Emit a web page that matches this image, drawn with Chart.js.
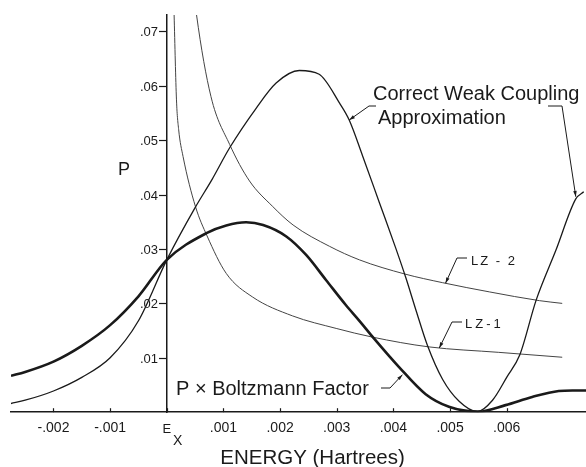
<!DOCTYPE html>
<html>
<head>
<meta charset="utf-8">
<script src="https://cdn.jsdelivr.net/npm/chart.js@4.4.1/dist/chart.umd.min.js"></script>
<style>
  html, body { margin: 0; padding: 0; background: #fff; }
  #wrap { width: 586px; height: 467px; }
</style>
</head>
<body>
<div id="wrap"><canvas id="energyChart" width="586" height="467"></canvas></div>
<script>
var cwcEnergy = [-0.00275, -0.0025, -0.002, -0.0015, -0.001, -0.0005, 0, 0.0005, 0.0008, 0.00111, 0.00158, 0.00193, 0.00234, 0.00269, 0.00305, 0.00322, 0.00346, 0.00375, 0.00404, 0.00422, 0.0044, 0.0046, 0.00487, 0.00516, 0.00548, 0.00575, 0.006, 0.00623, 0.00652, 0.00687, 0.00722, 0.00736];
var cwcP = [0.0016, 0.0022, 0.0039, 0.0064, 0.0100, 0.0168, 0.028, 0.0376, 0.0428, 0.0486, 0.0559, 0.0605, 0.0628, 0.0621, 0.0568, 0.0537, 0.0470, 0.0386, 0.0302, 0.0247, 0.0187, 0.0123, 0.0060, 0.0020, 0.0001, 0.0022, 0.0064, 0.0105, 0.0206, 0.0298, 0.0392, 0.0405];

var boltzEnergy = [-0.00275, -0.0025, -0.002, -0.0015, -0.001, -0.0005, 0, 0.0007, 0.00105, 0.0014, 0.0017, 0.00211, 0.00246, 0.00281, 0.00316, 0.0034, 0.00363, 0.0041, 0.00457, 0.00498, 0.0055, 0.00598, 0.00645, 0.00692, 0.00716, 0.0074];
var boltzP = [0.0067, 0.0074, 0.0093, 0.0122, 0.0160, 0.0213, 0.028, 0.0329, 0.0343, 0.0349, 0.0344, 0.0323, 0.0289, 0.0243, 0.0197, 0.0168, 0.0139, 0.0083, 0.0033, 0.0010, 0.0001, 0.0013, 0.0028, 0.0039, 0.0040, 0.0040];

var lz1Energy = [0.0001, 0.000129, 0.000171, 0.00021, 0.000287, 0.000506, 0.000711, 0.00105, 0.00151, 0.00222, 0.00299, 0.00363, 0.00463, 0.00586, 0.00698];
var lz1P = [0.085, 0.0731, 0.0574, 0.0519, 0.047, 0.0378, 0.0324, 0.0255, 0.0212, 0.0177, 0.0154, 0.0138, 0.0120, 0.0110, 0.0101];

var lz2Energy = [0.00045, 0.000524, 0.00078, 0.00111, 0.00146, 0.00187, 0.00223, 0.00287, 0.0034, 0.0042, 0.00487, 0.0057, 0.00658, 0.00698];
var lz2P = [0.080, 0.0731, 0.058, 0.0492, 0.0425, 0.0378, 0.0344, 0.0305, 0.0280, 0.0254, 0.0238, 0.0221, 0.0205, 0.0200];

var xTicks = [-0.002, -0.001, 0, 0.001, 0.002, 0.003, 0.004, 0.005, 0.006];
var yTicks = [0.01, 0.02, 0.03, 0.04, 0.05, 0.06, 0.07];

var ink = '#1a1a1a';
var fontFamily = "'Liberation Sans', Arial, sans-serif";

function toPoints(xs, ys) {
  var pts = [];
  for (var i = 0; i < xs.length; i++) {
    pts.push({ x: xs[i], y: ys[i] });
  }
  return pts;
}

function stripZero(str) {
  return str.replace('0.', '.');
}

// leader line from a label to a point on a curve, with a small arrow head
function drawLeader(ctx, pts, tip) {
  ctx.beginPath();
  ctx.moveTo(pts[0][0], pts[0][1]);
  for (var i = 1; i < pts.length; i++) {
    ctx.lineTo(pts[i][0], pts[i][1]);
  }
  ctx.lineTo(tip[0], tip[1]);
  ctx.stroke();
  var last = pts[pts.length - 1];
  var ang = Math.atan2(tip[1] - last[1], tip[0] - last[0]);
  ctx.beginPath();
  ctx.moveTo(tip[0], tip[1]);
  ctx.lineTo(tip[0] - 6 * Math.cos(ang - 0.3), tip[1] - 6 * Math.sin(ang - 0.3));
  ctx.lineTo(tip[0] - 6 * Math.cos(ang + 0.3), tip[1] - 6 * Math.sin(ang + 0.3));
  ctx.closePath();
  ctx.fill();
}

var labelsPlugin = {
  id: 'figureLabels',
  afterDraw: function (chart) {
    var ctx = chart.ctx;
    var xs = chart.scales.x;
    var ys = chart.scales.y;
    var axisX = Math.round(xs.getPixelForValue(0));
    var tipAt = function (e, p) { return [xs.getPixelForValue(e), ys.getPixelForValue(p)]; };

    ctx.save();
    ctx.strokeStyle = ink;
    ctx.fillStyle = ink;

    // inward tick marks on the energy axis
    ctx.lineWidth = 1.2;
    xTicks.forEach(function (v) {
      var px = Math.round(xs.getPixelForValue(v)) + 0.5;
      ctx.beginPath();
      ctx.moveTo(px, chart.chartArea.bottom);
      ctx.lineTo(px, chart.chartArea.bottom - 4);
      ctx.stroke();
    });

    // P ticks and labels sit left of the axis drawn at E_x
    ctx.font = '13px ' + fontFamily;
    ctx.textAlign = 'right';
    ctx.textBaseline = 'middle';
    yTicks.forEach(function (v) {
      var py = Math.round(ys.getPixelForValue(v)) + 0.5;
      ctx.beginPath();
      ctx.moveTo(axisX, py);
      ctx.lineTo(axisX - 8, py);
      ctx.stroke();
      ctx.fillText(stripZero(v.toFixed(2)), axisX - 9, py + 1);
    });

    ctx.textBaseline = 'alphabetic';
    ctx.textAlign = 'left';

    ctx.font = '20px ' + fontFamily;
    ctx.fillText('Correct Weak Coupling', 373, 100);
    ctx.fillText('Approximation', 378, 124);
    ctx.fillText('P \u00d7 Boltzmann Factor', 176, 395);

    ctx.font = '18px ' + fontFamily;
    ctx.fillText('P', 118, 175);

    ctx.font = '13px ' + fontFamily;
    ctx.fillText('E', 162.5, 433);
    ctx.font = '14px ' + fontFamily;
    ctx.fillText('X', 173, 445);

    ctx.font = '13px ' + fontFamily;
    ctx.letterSpacing = '2px';
    ctx.fillText('LZ - 2', 471, 265);
    ctx.letterSpacing = '3px';
    ctx.fillText('LZ-1', 465, 328);
    ctx.letterSpacing = '0px';

    ctx.font = '20.5px ' + fontFamily;
    ctx.textAlign = 'center';
    ctx.fillText('ENERGY (Hartrees)', 312.5, 464);

    ctx.lineWidth = 1;
    drawLeader(ctx, [[376, 106], [369, 106]], tipAt(0.00322, 0.0537));
    drawLeader(ctx, [[548, 106], [562, 106]], tipAt(0.00722, 0.0396));
    drawLeader(ctx, [[467, 258], [457, 258]], tipAt(0.00492, 0.0237));
    drawLeader(ctx, [[462, 322], [452, 322]], tipAt(0.00481, 0.0118));
    drawLeader(ctx, [[381, 388], [390, 388]], tipAt(0.00416, 0.0069));

    ctx.restore();
  }
};

var chartConfig = {
  type: 'line',
  data: {
    datasets: [{
      label: 'Correct Weak Coupling Approximation',
      data: toPoints(cwcEnergy, cwcP),
      borderColor: ink,
      borderWidth: 1.3,
      cubicInterpolationMode: 'monotone'
    }, {
      label: 'P x Boltzmann Factor',
      data: toPoints(boltzEnergy, boltzP),
      borderColor: ink,
      borderWidth: 2.6,
      cubicInterpolationMode: 'monotone'
    }, {
      label: 'LZ-1',
      data: toPoints(lz1Energy, lz1P),
      borderColor: '#444',
      borderWidth: 1,
      cubicInterpolationMode: 'monotone'
    }, {
      label: 'LZ-2',
      data: toPoints(lz2Energy, lz2P),
      borderColor: '#444',
      borderWidth: 1,
      cubicInterpolationMode: 'monotone'
    }]
  },
  options: {
    responsive: false,
    animation: false,
    events: [],
    layout: { padding: { top: 15, left: 11, right: 0, bottom: 22 } },
    elements: { point: { radius: 0 } },
    plugins: {
      legend: { display: false },
      tooltip: { enabled: false }
    },
    scales: {
      x: {
        type: 'linear',
        min: -0.00275,
        max: 0.0074,
        afterBuildTicks: function (scale) {
          scale.ticks = xTicks.map(function (v) { return { value: v }; });
        },
        border: { display: true, color: ink, width: 1.5 },
        grid: { display: true, drawOnChartArea: false, drawTicks: false },
        ticks: {
          padding: 8,
          autoSkip: false,
          maxRotation: 0,
          color: ink,
          font: { family: fontFamily, size: 14 },
          callback: function (v) {
            if (Math.abs(v) < 1e-9) {
              return '';
            }
            return stripZero(v.toFixed(3));
          }
        }
      },
      y: {
        type: 'linear',
        position: { x: 0 },
        min: 0,
        max: 0.073,
        afterBuildTicks: function (scale) {
          scale.ticks = yTicks.map(function (v) { return { value: v }; });
        },
        border: { display: true, color: ink, width: 1.5 },
        grid: { display: true, drawOnChartArea: false, drawTicks: false },
        ticks: { display: false }
      }
    }
  },
  plugins: [labelsPlugin]
};

var energyChart = new Chart(document.getElementById('energyChart').getContext('2d'), chartConfig);
</script>
</body>
</html>
